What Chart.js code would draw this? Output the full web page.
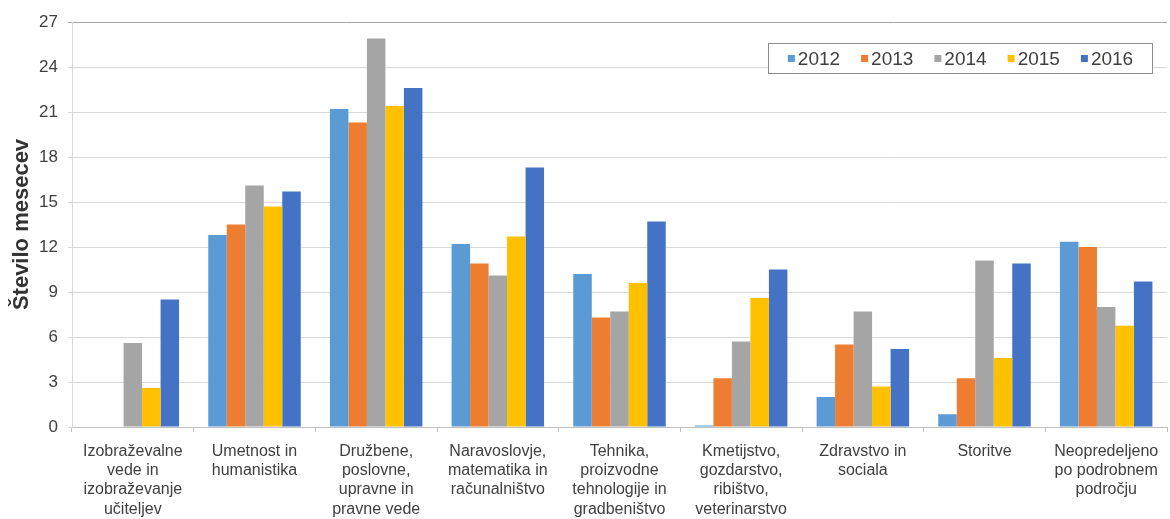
<!DOCTYPE html>
<html>
<head>
<meta charset="utf-8">
<script src="https://cdn.jsdelivr.net/npm/chart.js@4"></script>
<style>
html,body{margin:0;padding:0;background:#fff;}
canvas{display:block;}
</style>
</head>
<body>
<canvas id="c" width="1170" height="519"></canvas>
<script>
const categories = [
  ["Izobraževalne","vede in","izobraževanje","učiteljev"],
  ["Umetnost in","humanistika"],
  ["Družbene,","poslovne,","upravne in","pravne vede"],
  ["Naravoslovje,","matematika in","računalništvo"],
  ["Tehnika,","proizvodne","tehnologije in","gradbeništvo"],
  ["Kmetijstvo,","gozdarstvo,","ribištvo,","veterinarstvo"],
  ["Zdravstvo in","sociala"],
  ["Storitve"],
  ["Neopredeljeno","po podrobnem","področju"]
];
const seriesLabels = ["2012","2013","2014","2015","2016"];
const v2012 = [0, 12.8, 21.2, 12.2, 10.2, 0.1, 2.0, 0.85, 12.35];
const v2013 = [0, 13.5, 20.3, 10.9, 7.3, 3.25, 5.5, 3.25, 12.0];
const v2014 = [5.6, 16.1, 25.9, 10.1, 7.7, 5.7, 7.7, 11.1, 8.0];
const v2015 = [2.6, 14.7, 21.4, 12.7, 9.6, 8.6, 2.7, 4.6, 6.75];
const v2016 = [8.5, 15.7, 22.6, 17.3, 13.7, 10.5, 5.2, 10.9, 9.7];
const yTicksMin = 0, yTicksMax = 27, yStep = 3;
const yTitle = "Število mesecev";

const colors = ["#5B9BD5","#ED7D31","#A5A5A5","#FFC000","#4472C4"];
const allValues = [v2012, v2013, v2014, v2015, v2016];

const FONT = "'Liberation Sans', Arial, sans-serif";

const boxLegend = {
  id: 'boxLegend',
  afterDraw(chart) {
    const ctx = chart.ctx;
    const ca = chart.chartArea;
    const bw = 385, bh = 31;
    const bx = ca.right - 14 - bw;
    const by = ca.top + 21;
    ctx.save();
    ctx.fillStyle = '#ffffff';
    ctx.fillRect(bx, by, bw, bh);
    ctx.strokeStyle = '#8c8c8c';
    ctx.lineWidth = 1;
    ctx.strokeRect(bx + 0.5, by + 0.5, bw - 1, bh - 1);
    ctx.font = "19px " + FONT;
    ctx.textBaseline = 'middle';
    const sq = 7, gap = 3, spacing = 21;
    const items = chart.data.datasets.map(d => ({label: d.label, color: d.backgroundColor, w: sq + gap + ctx.measureText(d.label).width}));
    const total = items.reduce((s, it) => s + it.w, 0) + spacing * (items.length - 1);
    let x = bx + (bw - total) / 2;
    const cy = by + bh / 2;
    items.forEach(it => {
      ctx.fillStyle = it.color;
      ctx.fillRect(x, cy - sq / 2, sq, sq);
      ctx.fillStyle = '#404040';
      ctx.fillText(it.label, x + sq + gap, cy + 1);
      x += it.w + spacing;
    });
    ctx.restore();
  }
};

new Chart(document.getElementById('c'), {
  type: 'bar',
  data: {
    labels: categories,
    datasets: seriesLabels.map((l, i) => ({
      label: l,
      data: allValues[i],
      backgroundColor: colors[i],
      borderWidth: 0,
      categoryPercentage: 0.76,
      barPercentage: 1.0
    }))
  },
  options: {
    responsive: false,
    animation: false,
    layout: { padding: { top: 22, right: 3, left: 0, bottom: 0 } },
    plugins: {
      legend: { display: false },
      tooltip: { enabled: false }
    },
    scales: {
      x: {
        grid: { display: true, drawOnChartArea: false, drawTicks: true, tickLength: 5, color: '#bfbfbf', offset: true },
        border: { display: true, color: '#bfbfbf' },
        ticks: { color: '#404040', font: { family: FONT, size: 16 }, padding: 10, maxRotation: 0, autoSkip: false },
        afterFit(scale) { scale.height = 92; }
      },
      y: {
        min: yTicksMin, max: yTicksMax,
        grid: {
          color: (c) => (c.tick && c.tick.value === yTicksMax) ? '#a6a6a6' : '#d9d9d9',
          tickLength: 4
        },
        border: { display: true, color: '#d9d9d9' },
        ticks: { stepSize: yStep, color: '#404040', font: { family: FONT, size: 17 }, padding: 10 },
        title: { display: true, text: yTitle, color: '#333333', font: { family: FONT, size: 22, weight: 'bold' }, padding: { top: 9, bottom: 0 } },
        afterFit(scale) { scale.width = 72; }
      }
    }
  },
  plugins: [boxLegend]
});
</script>
</body>
</html>
